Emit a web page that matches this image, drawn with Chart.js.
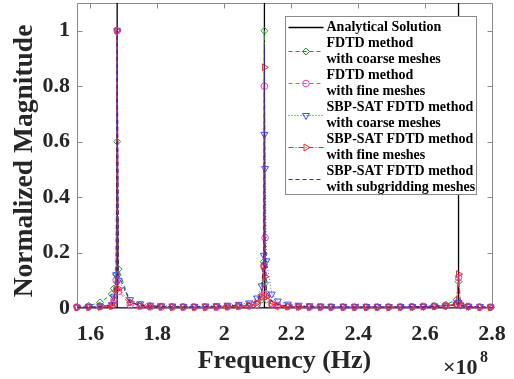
<!DOCTYPE html>
<html>
<head>
<meta charset="utf-8">
<script src="https://cdn.jsdelivr.net/npm/chart.js@4.4.1/dist/chart.umd.min.js"></script>
<style>
  html, body { margin: 0; padding: 0; background: #fff; }
  canvas { display: block; }
</style>
</head>
<body>
<canvas id="spectrum" width="514" height="379"></canvas>
<script>
// Frequency samples, in units of 10^8 Hz
const freqs = [
    1.560, 1.595, 1.629, 1.664,
    1.670, 1.677, 1.680, 1.684,
    1.719, 1.749, 1.779, 1.812, 1.845, 1.878, 1.911, 1.944, 1.977, 2.010, 2.043, 2.074,
    2.098, 2.112, 2.118, 2.120, 2.122, 2.126,
    2.142, 2.160, 2.190, 2.222, 2.255, 2.288, 2.320, 2.356, 2.390, 2.425, 2.458, 2.492, 2.527, 2.562, 2.595, 2.628, 2.662,
    2.694, 2.700, 2.706,
    2.730, 2.764, 2.796
];

// Normalized magnitudes for each method
const fdtdCoarse = [
    0.004, 0.008, 0.020, 0.050,
    0.070, 0.120, 0.600, 0.140,
    0.020, 0.012, 0.008, 0.006, 0.005, 0.005, 0.004, 0.004, 0.004, 0.005, 0.006, 0.008,
    0.012, 0.030, 0.167, 1.000, 0.090, 0.030,
    0.012, 0.007, 0.005, 0.004, 0.004, 0.003, 0.003, 0.003, 0.003, 0.003, 0.004, 0.004, 0.004, 0.005, 0.006, 0.008, 0.012,
    0.030, 0.095, 0.012,
    0.006, 0.004, 0.003
];
const fdtdFine = [
    0.003, 0.004, 0.005, 0.008,
    0.030, 0.100, 1.000, 0.060,
    0.012, 0.006, 0.004, 0.003, 0.003, 0.003, 0.003, 0.003, 0.003, 0.004, 0.005, 0.007,
    0.012, 0.040, 0.152, 0.800, 0.253, 0.050,
    0.015, 0.008, 0.005, 0.004, 0.003, 0.003, 0.003, 0.003, 0.003, 0.003, 0.003, 0.003, 0.004, 0.004, 0.005, 0.006, 0.008,
    0.015, 0.110, 0.012,
    0.005, 0.003, 0.003
];
const sbpCoarse = [
    0.003, 0.005, 0.007, 0.012,
    0.040, 0.120, 1.000, 0.100,
    0.030, 0.015, 0.010, 0.008, 0.007, 0.006, 0.006, 0.007, 0.008, 0.010, 0.013, 0.018,
    0.036, 0.080, 0.190, 0.626, 0.503, 0.170,
    0.050, 0.025, 0.014, 0.010, 0.008, 0.007, 0.006, 0.006, 0.005, 0.005, 0.005, 0.005, 0.005, 0.005, 0.006, 0.007, 0.008,
    0.012, 0.020, 0.010,
    0.006, 0.005, 0.004
];
const sbpFine = [
    0.002, 0.003, 0.004, 0.006,
    0.020, 0.065, 1.000, 0.070,
    0.020, 0.008, 0.005, 0.004, 0.003, 0.003, 0.003, 0.003, 0.004, 0.005, 0.007, 0.010,
    0.018, 0.040, 0.150, 0.868, 0.113, 0.040,
    0.015, 0.008, 0.005, 0.004, 0.003, 0.003, 0.003, 0.003, 0.003, 0.003, 0.003, 0.003, 0.003, 0.004, 0.005, 0.006, 0.008,
    0.015, 0.122, 0.012,
    0.005, 0.003, 0.002
];
const sbpSubgrid = [
    0.002, 0.003, 0.005, 0.010,
    0.030, 0.100, 1.000, 0.120,
    0.020, 0.010, 0.007, 0.005, 0.004, 0.004, 0.004, 0.005, 0.006, 0.008, 0.010, 0.015,
    0.025, 0.060, 0.200, 0.950, 0.250, 0.060,
    0.025, 0.012, 0.008, 0.006, 0.005, 0.004, 0.004, 0.004, 0.004, 0.004, 0.004, 0.004, 0.004, 0.005, 0.005, 0.006, 0.008,
    0.010, 0.020, 0.008,
    0.005, 0.004, 0.003
];

// Analytical resonances: spikes at 1.68, 2.12 and 2.70 (x10^8 Hz)
const analyticalX = [1.56, 1.68, 1.68, 1.68, 2.12, 2.12, 2.12, 2.70, 2.70, 2.70, 2.80];
const analyticalY = [0, 0, 1.5, 0, 0, 1.5, 0, 0, 1.5, 0, 0];

const xTicks = [1.6, 1.8, 2, 2.2, 2.4, 2.6, 2.8];
const yTicks = [0, 0.2, 0.4, 0.6, 0.8, 1];

const legendLabels = [
    ['Analytical Solution'],
    ['FDTD method', 'with coarse meshes'],
    ['FDTD method', 'with fine meshes'],
    ['SBP-SAT FDTD method', 'with coarse meshes'],
    ['SBP-SAT FDTD method', 'with fine meshes'],
    ['SBP-SAT FDTD method', 'with subgridding meshes']
];

const FONT = "'Liberation Serif', 'Times New Roman', serif";
const AXIS_GRAY = '#8a8a8a';
const TEXT_COLOR = '#262626';

function toPoints(xs, ys) {
    return xs.map((x, i) => ({ x, y: ys[i] }));
}

function series(label, values, color, dash, style, rotation, radius, order) {
    return {
        label,
        data: toPoints(freqs, values),
        borderColor: color,
        borderWidth: 1,
        borderDash: dash,
        pointStyle: style,
        rotation,
        pointRadius: radius,
        pointBorderWidth: 1,
        pointBorderColor: color,
        pointBackgroundColor: 'rgba(0,0,0,0)',
        clip: false,
        order
    };
}

// fixed axis box sizes, no extra room for half tick labels
function fixSize(s, size) {
    if (s.isHorizontal()) s.height = size; else s.width = size;
    s.paddingTop = 0;
    s.paddingBottom = 0;
    s.paddingLeft = 0;
    s.paddingRight = 0;
}

// Box frame with inward ticks on all four sides
const framePlugin = {
    id: 'frame',
    beforeDatasetsDraw(chart) {
        const { ctx, chartArea: a, scales: { x, y } } = chart;
        const L = Math.round(a.left) + 0.5, R = Math.round(a.right) + 0.5;
        const T = Math.round(a.top) + 0.5, B = Math.round(a.bottom) + 0.5;
        const len = 5;
        ctx.save();
        ctx.strokeStyle = AXIS_GRAY;
        ctx.lineWidth = 1;
        ctx.beginPath();
        ctx.rect(L, T, R - L, B - T);
        xTicks.forEach(v => {
            const px = Math.round(x.getPixelForValue(v)) + 0.5;
            ctx.moveTo(px, B); ctx.lineTo(px, B - len);
            ctx.moveTo(px, T); ctx.lineTo(px, T + len);
        });
        yTicks.forEach(v => {
            const py = Math.round(y.getPixelForValue(v)) + 0.5;
            ctx.moveTo(L, py); ctx.lineTo(L + len, py);
            ctx.moveTo(R, py); ctx.lineTo(R - len, py);
        });
        ctx.stroke();
        ctx.restore();
    }
};

// Legend with two-line entries, y-axis title and the x10^8 exponent label
const legendPlugin = {
    id: 'multiLineLegend',
    afterDraw(chart) {
        const { ctx } = chart;
        const box = { x: 285.5, y: 16.5, w: 191, h: 178 };
        const rowH = 16;

        ctx.save();
        ctx.fillStyle = '#fff';
        ctx.fillRect(box.x, box.y, box.w, box.h);
        ctx.strokeStyle = AXIS_GRAY;
        ctx.lineWidth = 1;
        ctx.strokeRect(box.x, box.y, box.w, box.h);

        ctx.font = 'bold 14px ' + FONT;
        ctx.textBaseline = 'middle';
        ctx.textAlign = 'left';

        let cursor = box.y + 3;
        chart.data.datasets.forEach((ds, i) => {
            const lines = legendLabels[i];
            const cy = cursor + rowH * lines.length / 2;
            const x0 = box.x + 3, x1 = box.x + 38;

            ctx.save();
            ctx.strokeStyle = ds.borderColor;
            ctx.lineWidth = ds.borderWidth;
            ctx.setLineDash(ds.borderDash || []);
            ctx.beginPath();
            ctx.moveTo(x0, cy);
            ctx.lineTo(x1, cy);
            ctx.stroke();
            ctx.restore();

            if (ds.pointRadius > 0) {
                ctx.save();
                ctx.strokeStyle = ds.pointBorderColor;
                ctx.fillStyle = 'rgba(0,0,0,0)';
                ctx.lineWidth = 1;
                Chart.helpers.drawPoint(ctx, {
                    pointStyle: ds.pointStyle,
                    rotation: ds.rotation || 0,
                    radius: ds.pointRadius,
                    borderWidth: 1
                }, (x0 + x1) / 2, cy);
                ctx.restore();
            }

            ctx.fillStyle = '#000';
            lines.forEach((t, k) => {
                ctx.fillText(t, box.x + 41, cursor + rowH / 2 + rowH * k);
            });
            cursor += rowH * lines.length;
        });

        // y-axis title
        ctx.save();
        ctx.fillStyle = TEXT_COLOR;
        ctx.font = 'bold 27.5px ' + FONT;
        ctx.textAlign = 'center';
        ctx.translate(25, 161);
        ctx.rotate(-Math.PI / 2);
        ctx.fillText('Normalized Magnitude', 0, 0);
        ctx.restore();

        // exponent of the frequency axis
        ctx.fillStyle = TEXT_COLOR;
        ctx.font = 'bold 22px ' + FONT;
        ctx.textAlign = 'left';
        ctx.fillText('\u00d710', 443, 368);
        ctx.font = 'bold 16px ' + FONT;
        ctx.fillText('8', 480, 358);
        ctx.restore();
    }
};

const datasets = [
    {
        label: 'Analytical Solution',
        data: toPoints(analyticalX, analyticalY),
        borderColor: '#000000',
        borderWidth: 1.3,
        pointRadius: 0,
        order: 6
    },
    series('FDTD method with coarse meshes', fdtdCoarse, '#1f9d1f', [4, 3], 'rectRot', 0, 3.5, 5),
    series('FDTD method with fine meshes', fdtdFine, '#ee3ccf', [4, 3], 'circle', 0, 3.3, 4),
    series('SBP-SAT FDTD method with coarse meshes', sbpCoarse, '#3050ff', [1, 2], 'triangle', 180, 4, 3),
    series('SBP-SAT FDTD method with fine meshes', sbpFine, '#ff2222', [5, 2, 1, 2], 'triangle', 90, 4, 2),
    {
        label: 'SBP-SAT FDTD method with subgridding meshes',
        data: toPoints(freqs, sbpSubgrid),
        borderColor: '#3326a6',
        borderWidth: 1,
        borderDash: [4, 3],
        pointRadius: 0,
        clip: false,
        order: 1
    }
];

new Chart(document.getElementById('spectrum'), {
    type: 'line',
    data: { datasets },
    plugins: [framePlugin, legendPlugin],
    options: {
        responsive: false,
        devicePixelRatio: 1,
        animation: false,
        layout: { autoPadding: false, padding: { top: 3, right: 22, left: 0, bottom: 0 } },
        plugins: {
            legend: { display: false },
            tooltip: { enabled: false }
        },
        elements: { line: { tension: 0 } },
        scales: {
            x: {
                type: 'linear',
                min: 1.56,
                max: 2.8,
                afterBuildTicks: s => { s.ticks = xTicks.map(v => ({ value: v })); },
                afterFit: s => fixSize(s, 71),
                grid: { display: false, drawTicks: false },
                border: { display: false },
                ticks: {
                    autoSkip: false,
                    maxRotation: 0,
                    padding: 13,
                    color: TEXT_COLOR,
                    font: { family: FONT, size: 22, weight: 'bold' },
                    callback: v => String(parseFloat(v.toFixed(2)))
                },
                title: {
                    display: true,
                    text: 'Frequency (Hz)',
                    color: TEXT_COLOR,
                    font: { family: FONT, size: 26, weight: 'bold' },
                    padding: { top: 0, bottom: 2 }
                }
            },
            y: {
                min: 0,
                max: 1.1,
                afterBuildTicks: s => { s.ticks = yTicks.map(v => ({ value: v })); },
                afterFit: s => fixSize(s, 77),
                grid: { display: false, drawTicks: false },
                border: { display: false },
                ticks: {
                    padding: 7,
                    color: TEXT_COLOR,
                    font: { family: FONT, size: 22, weight: 'bold' },
                    callback: v => String(parseFloat(v.toFixed(2)))
                }
            }
        }
    }
});
</script>
</body>
</html>
